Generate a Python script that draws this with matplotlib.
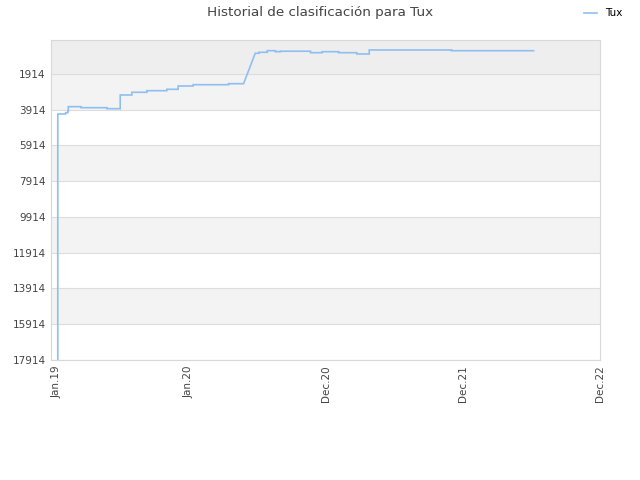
import numpy as np
import pandas as pd
import matplotlib
matplotlib.use("Agg")
import matplotlib.pyplot as plt
import matplotlib.dates as mdates

# ranking history (lower is better)
dates = ["2019-01-19", "2019-01-19", "2019-02-09", "2019-02-15", "2019-02-16",
         "2019-03-22", "2019-05-30", "2019-07-04", "2019-08-04", "2019-09-13",
         "2019-11-05", "2019-12-05", "2020-01-14", "2020-04-17", "2020-05-27",
         "2020-06-27", "2020-07-07", "2020-07-29", "2020-08-20", "2020-09-02",
         "2020-11-21", "2020-12-22", "2021-02-04", "2021-03-24", "2021-04-19",
         "2021-04-26", "2021-12-01", "2022-07-07"]
ranks = [17914, 4152, 4079, 3984, 3743,
         3799, 3855, 3089, 2938, 2848,
         2770, 2585, 2513, 2457, 2457,
         756, 700, 611, 667, 640,
         723, 667, 723, 795, 795,
         571, 611, 611]
# the climb in mid 2020 has no steps (gap in data)
ramp = [(14, 15)]

yticks = [1914, 3914, 5914, 7914, 9914, 11914, 13914, 15914, 17914]
xtick_dates = ["2019-01-17", "2020-01-01", "2020-12-31", "2021-12-31", "2022-12-31"]
xtick_labels = ["Jan.19", "Jan.20", "Dec.20", "Dec.21", "Dec.22"]

d = pd.to_datetime(dates)

fig = plt.figure(figsize=(6.4, 4.8), dpi=100)
ax = fig.add_axes([0.0797, 0.25, 0.858, 0.6667])

# build step path, with a straight ramp where data is missing
xs, ys = [d[0]], [ranks[0]]
for i in range(1, len(d)):
    if (i - 1, i) in ramp:
        xs.append(d[i]); ys.append(ranks[i])
    else:
        xs.append(d[i]); ys.append(ranks[i - 1])
        xs.append(d[i]); ys.append(ranks[i])
ax.plot(xs, ys, color="#8fbff0", lw=1.2, label="Tux", solid_joinstyle="miter")

top = 12
bottom = 17914
ax.set_ylim(bottom, top)
ax.set_xlim(pd.Timestamp("2019-01-01"), pd.Timestamp("2022-12-31"))

# alternating bands
edges = [bottom] + yticks[::-1][1:] + [top]
for k in range(len(edges) - 1):
    if k == len(edges) - 2:
        c = "#eeeeee"
    elif k % 2 == 1:
        c = "#f3f3f3"
    else:
        c = "white"
    ax.axhspan(edges[k], edges[k + 1], color=c, zorder=0, lw=0)
for t in yticks:
    ax.axhline(t, color="#dddddd", lw=0.8, zorder=1)

ax.set_yticks(yticks)
ax.set_yticklabels([str(t) for t in yticks])
ax.set_xticks(pd.to_datetime(xtick_dates))
ax.set_xticklabels(xtick_labels, rotation=90)
ax.tick_params(axis="both", length=0, labelsize=7.5, colors="#444444", pad=4)
for s in ax.spines.values():
    s.set_color("#d8d8d8")

fig.text(0.5, 0.973, "Historial de clasificación para Tux", ha="center", va="center",
         fontsize=9.7, color="#444444")
leg = ax.legend(loc="upper right", bbox_to_anchor=(1.058, 1.128), frameon=False,
                fontsize=7.5, handlelength=1.2, handletextpad=0.8)
for t in leg.get_texts():
    t.set_color("black")

fig.savefig("out.png", dpi=100)
